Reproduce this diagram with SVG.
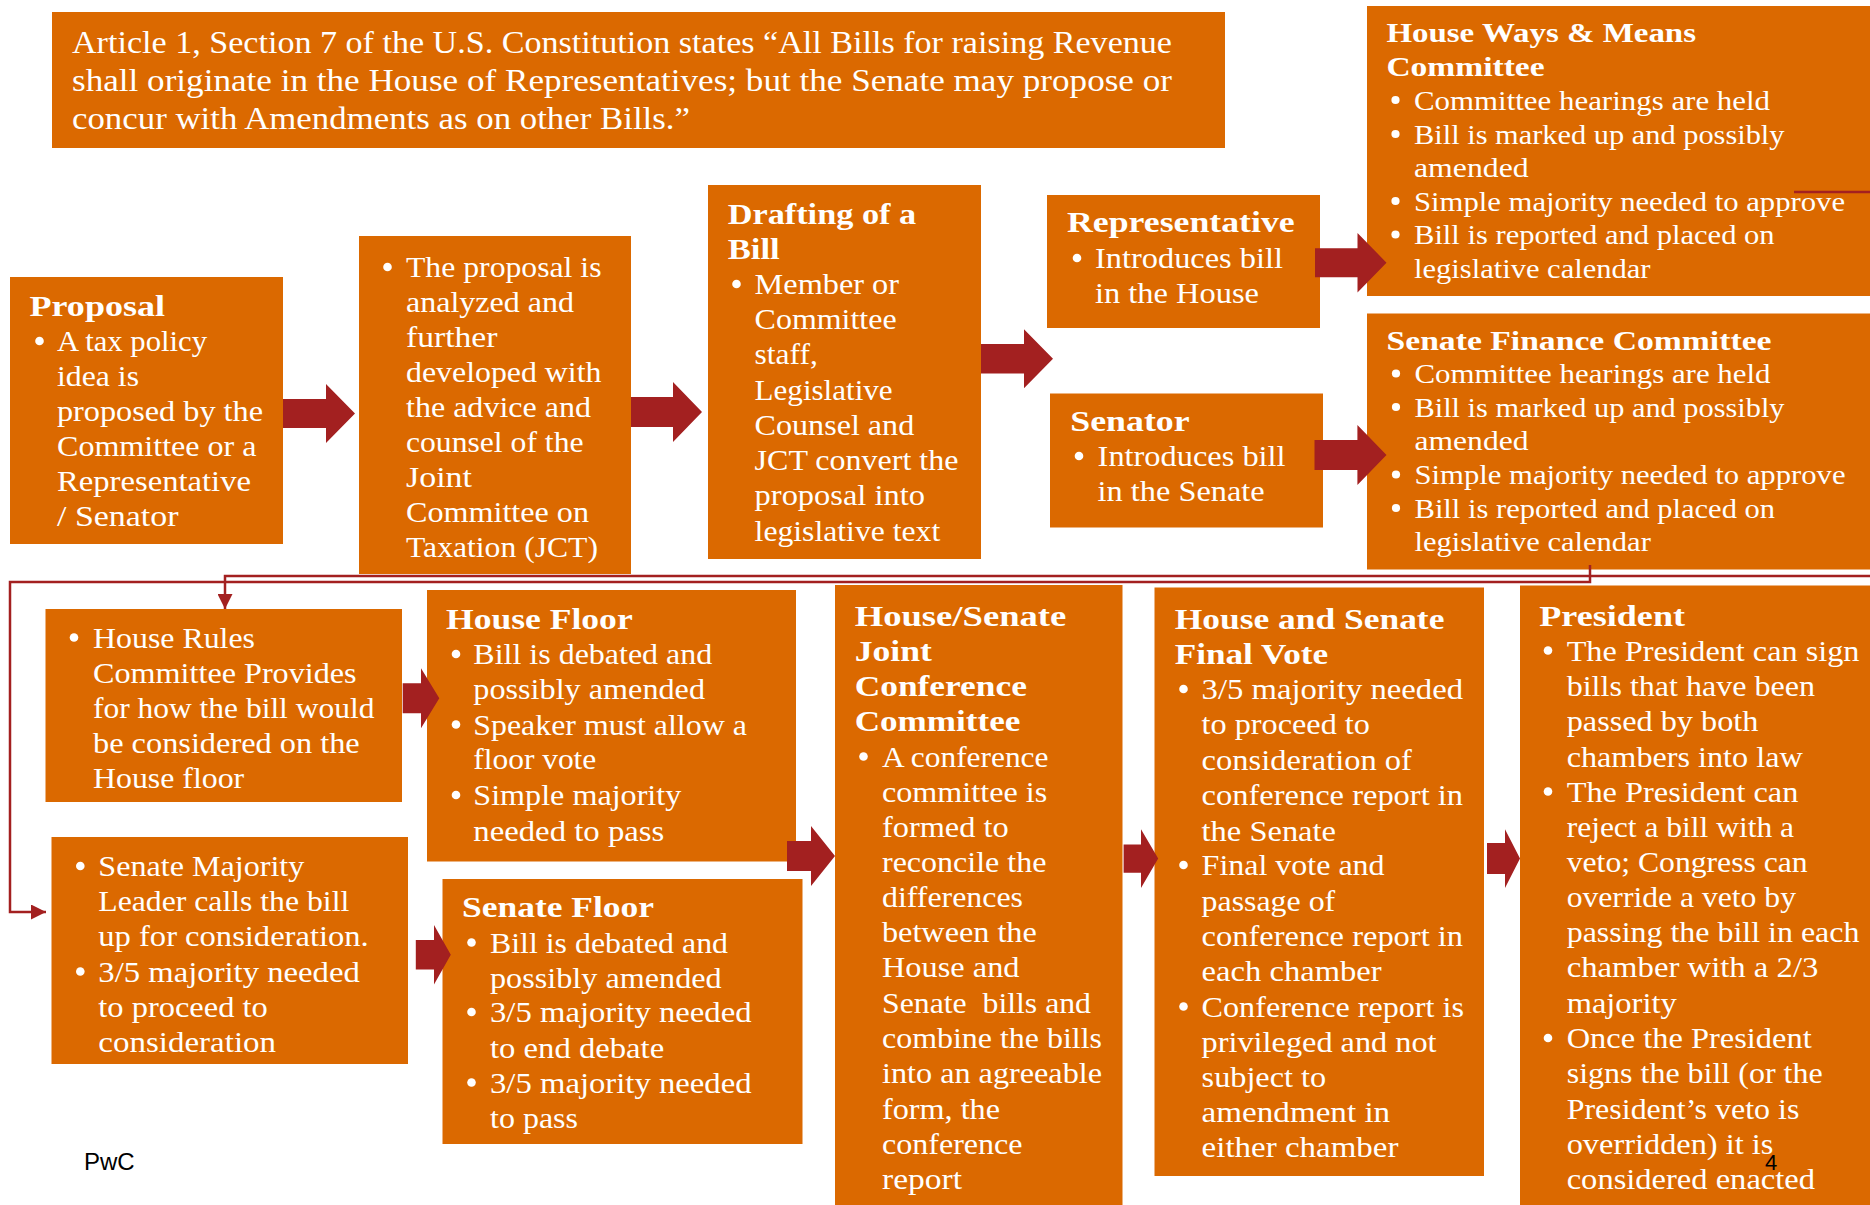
<svg xmlns="http://www.w3.org/2000/svg" width="1870" height="1205" viewBox="0 0 1870 1205">
<style>
.bg{fill:#ffffff}
.box{fill:#DB6900}
.t{font-family:"Liberation Serif","Times New Roman",serif;font-size:30px;fill:#ffffff}
.s{font-size:28px}
.q{font-size:31px}
.b{font-weight:bold}
.dot{fill:#ffffff}
.arr{fill:#A32020}
.ln{fill:none;stroke:#A32020;stroke-width:2.5}
.ft{font-family:"Liberation Sans",Arial,sans-serif;fill:#000000}
</style>
<defs>
<marker id="ah" viewBox="0 0 10 10" refX="10" refY="5" markerWidth="15" markerHeight="15" markerUnits="userSpaceOnUse" orient="auto">
<path d="M0,0 L10,5 L0,10 z" fill="#A32020"/>
</marker>
</defs>
<rect class="bg" x="0" y="0" width="1870" height="1205"/>

<g id="quote">
<rect class="box" x="52" y="12" width="1173" height="136"/>
<text class="t q" x="72" y="53" textLength="1100" lengthAdjust="spacingAndGlyphs">Article 1, Section 7 of the U.S. Constitution states “All Bills for raising Revenue</text>
<text class="t q" x="72" y="91" textLength="1100" lengthAdjust="spacingAndGlyphs">shall originate in the House of Representatives; but the Senate may propose or</text>
<text class="t q" x="72" y="129" textLength="618" lengthAdjust="spacingAndGlyphs">concur with Amendments as on other Bills.”</text>
</g>

<g id="proposal">
<rect class="box" x="10" y="277" width="273" height="267"/>
<text class="t b" x="29.5" y="316" textLength="135.5" lengthAdjust="spacingAndGlyphs">Proposal</text>
<circle class="dot" cx="39.5" cy="341" r="4.3"/>
<text class="t" x="57" y="351" textLength="150" lengthAdjust="spacingAndGlyphs">A tax policy</text>
<text class="t" x="57" y="386" textLength="82" lengthAdjust="spacingAndGlyphs">idea is</text>
<text class="t" x="57" y="421" textLength="206" lengthAdjust="spacingAndGlyphs">proposed by the</text>
<text class="t" x="57" y="456" textLength="199.5" lengthAdjust="spacingAndGlyphs">Committee or a</text>
<text class="t" x="57" y="491" textLength="194" lengthAdjust="spacingAndGlyphs">Representative</text>
<text class="t" x="57" y="526" textLength="121.5" lengthAdjust="spacingAndGlyphs">/ Senator</text>
</g>

<g id="jct-analysis">
<rect class="box" x="359" y="236" width="272" height="338"/>
<circle class="dot" cx="387.5" cy="267" r="4.3"/>
<text class="t" x="406" y="277" textLength="195.5" lengthAdjust="spacingAndGlyphs">The proposal is</text>
<text class="t" x="406" y="312" textLength="168" lengthAdjust="spacingAndGlyphs">analyzed and</text>
<text class="t" x="406" y="347" textLength="91.5" lengthAdjust="spacingAndGlyphs">further</text>
<text class="t" x="406" y="382" textLength="195.5" lengthAdjust="spacingAndGlyphs">developed with</text>
<text class="t" x="406" y="417" textLength="185" lengthAdjust="spacingAndGlyphs">the advice and</text>
<text class="t" x="406" y="452" textLength="177.5" lengthAdjust="spacingAndGlyphs">counsel of the</text>
<text class="t" x="406" y="487" textLength="66" lengthAdjust="spacingAndGlyphs">Joint</text>
<text class="t" x="406" y="522" textLength="183" lengthAdjust="spacingAndGlyphs">Committee on</text>
<text class="t" x="406" y="557" textLength="192" lengthAdjust="spacingAndGlyphs">Taxation (JCT)</text>
</g>

<g id="drafting">
<rect class="box" x="708" y="185" width="273" height="374"/>
<text class="t b" x="727.7" y="224" textLength="188.5" lengthAdjust="spacingAndGlyphs">Drafting of a</text>
<text class="t b" x="727.7" y="259" textLength="52" lengthAdjust="spacingAndGlyphs">Bill</text>
<circle class="dot" cx="736.5" cy="284" r="4.3"/>
<text class="t" x="754.6" y="294" textLength="144.4" lengthAdjust="spacingAndGlyphs">Member or</text>
<text class="t" x="754.6" y="329" textLength="142" lengthAdjust="spacingAndGlyphs">Committee</text>
<text class="t" x="754.6" y="364" textLength="63.3" lengthAdjust="spacingAndGlyphs">staff,</text>
<text class="t" x="754.6" y="399.5" textLength="138" lengthAdjust="spacingAndGlyphs">Legislative</text>
<text class="t" x="754.6" y="435" textLength="159.6" lengthAdjust="spacingAndGlyphs">Counsel and</text>
<text class="t" x="754.6" y="470" textLength="203.8" lengthAdjust="spacingAndGlyphs">JCT convert the</text>
<text class="t" x="754.6" y="505" textLength="170.4" lengthAdjust="spacingAndGlyphs">proposal into</text>
<text class="t" x="754.6" y="540.5" textLength="185.6" lengthAdjust="spacingAndGlyphs">legislative text</text>
</g>

<g id="representative">
<rect class="box" x="1047" y="195" width="273" height="133"/>
<text class="t b" x="1067" y="232" textLength="227.7" lengthAdjust="spacingAndGlyphs">Representative</text>
<circle class="dot" cx="1077" cy="258" r="4.3"/>
<text class="t" x="1095" y="268" textLength="188" lengthAdjust="spacingAndGlyphs">Introduces bill</text>
<text class="t" x="1095" y="303" textLength="164" lengthAdjust="spacingAndGlyphs">in the House</text>
</g>

<g id="senator">
<rect class="box" x="1050" y="393.5" width="273" height="134"/>
<text class="t b" x="1070.3" y="430.5" textLength="119.3" lengthAdjust="spacingAndGlyphs">Senator</text>
<circle class="dot" cx="1079" cy="456" r="4.3"/>
<text class="t" x="1097.6" y="466" textLength="188" lengthAdjust="spacingAndGlyphs">Introduces bill</text>
<text class="t" x="1097.6" y="501" textLength="167" lengthAdjust="spacingAndGlyphs">in the Senate</text>
</g>

<g id="ways-and-means">
<rect class="box" x="1367" y="6" width="503" height="290"/>
<text class="t s b" x="1386.4" y="42" textLength="309.6" lengthAdjust="spacingAndGlyphs">House Ways &amp; Means</text>
<text class="t s b" x="1386.4" y="76" textLength="158.2" lengthAdjust="spacingAndGlyphs">Committee</text>
<circle class="dot" cx="1395.5" cy="100" r="4.1"/>
<text class="t s" x="1414" y="109.5" textLength="356" lengthAdjust="spacingAndGlyphs">Committee hearings are held</text>
<circle class="dot" cx="1395.5" cy="134" r="4.1"/>
<text class="t s" x="1414" y="143.5" textLength="370.5" lengthAdjust="spacingAndGlyphs">Bill is marked up and possibly</text>
<text class="t s" x="1414" y="176.5" textLength="114.7" lengthAdjust="spacingAndGlyphs">amended</text>
<circle class="dot" cx="1395.5" cy="201" r="4.1"/>
<text class="t s" x="1414" y="210.5" textLength="431" lengthAdjust="spacingAndGlyphs">Simple majority needed to approve</text>
<circle class="dot" cx="1395.5" cy="234.5" r="4.1"/>
<text class="t s" x="1414" y="244" textLength="360.6" lengthAdjust="spacingAndGlyphs">Bill is reported and placed on</text>
<text class="t s" x="1414" y="277.5" textLength="236.5" lengthAdjust="spacingAndGlyphs">legislative calendar</text>
</g>

<g id="senate-finance">
<rect class="box" x="1367" y="313.5" width="503" height="256"/>
<text class="t s b" x="1386.5" y="350" textLength="385" lengthAdjust="spacingAndGlyphs">Senate Finance Committee</text>
<circle class="dot" cx="1396" cy="373.5" r="4.1"/>
<text class="t s" x="1414.5" y="383" textLength="356" lengthAdjust="spacingAndGlyphs">Committee hearings are held</text>
<circle class="dot" cx="1396" cy="407" r="4.1"/>
<text class="t s" x="1414.5" y="416.5" textLength="370" lengthAdjust="spacingAndGlyphs">Bill is marked up and possibly</text>
<text class="t s" x="1414.5" y="450" textLength="114" lengthAdjust="spacingAndGlyphs">amended</text>
<circle class="dot" cx="1396" cy="474.5" r="4.1"/>
<text class="t s" x="1414.5" y="484" textLength="431" lengthAdjust="spacingAndGlyphs">Simple majority needed to approve</text>
<circle class="dot" cx="1396" cy="508" r="4.1"/>
<text class="t s" x="1414.5" y="517.5" textLength="360.6" lengthAdjust="spacingAndGlyphs">Bill is reported and placed on</text>
<text class="t s" x="1414.5" y="551" textLength="236.3" lengthAdjust="spacingAndGlyphs">legislative calendar</text>
</g>

<g id="house-rules">
<rect class="box" x="45.5" y="609" width="356.5" height="193"/>
<circle class="dot" cx="74" cy="637.5" r="4.3"/>
<text class="t" x="93" y="647.5" textLength="162" lengthAdjust="spacingAndGlyphs">House Rules</text>
<text class="t" x="93" y="683" textLength="263.6" lengthAdjust="spacingAndGlyphs">Committee Provides</text>
<text class="t" x="93" y="717.5" textLength="281.4" lengthAdjust="spacingAndGlyphs">for how the bill would</text>
<text class="t" x="93" y="752.5" textLength="266.7" lengthAdjust="spacingAndGlyphs">be considered on the</text>
<text class="t" x="93" y="788" textLength="151.2" lengthAdjust="spacingAndGlyphs">House floor</text>
</g>

<g id="house-floor">
<rect class="box" x="427" y="590" width="369" height="271.5"/>
<text class="t b" x="446" y="628.5" textLength="186.7" lengthAdjust="spacingAndGlyphs">House Floor</text>
<circle class="dot" cx="456" cy="654" r="4.3"/>
<text class="t" x="473.3" y="664" textLength="239" lengthAdjust="spacingAndGlyphs">Bill is debated and</text>
<text class="t" x="473.3" y="699" textLength="231.7" lengthAdjust="spacingAndGlyphs">possibly amended</text>
<circle class="dot" cx="456" cy="724.5" r="4.3"/>
<text class="t" x="473.3" y="734.5" textLength="273.5" lengthAdjust="spacingAndGlyphs">Speaker must allow a</text>
<text class="t" x="473.3" y="769" textLength="123" lengthAdjust="spacingAndGlyphs">floor vote</text>
<circle class="dot" cx="456" cy="795" r="4.3"/>
<text class="t" x="473.3" y="805" textLength="208" lengthAdjust="spacingAndGlyphs">Simple majority</text>
<text class="t" x="473.3" y="840.5" textLength="191" lengthAdjust="spacingAndGlyphs">needed to pass</text>
</g>

<g id="senate-majority">
<rect class="box" x="51.5" y="837" width="356.5" height="227"/>
<circle class="dot" cx="80.3" cy="866" r="4.3"/>
<text class="t" x="98.3" y="876" textLength="206" lengthAdjust="spacingAndGlyphs">Senate Majority</text>
<text class="t" x="98.3" y="911" textLength="251" lengthAdjust="spacingAndGlyphs">Leader calls the bill</text>
<text class="t" x="98.3" y="945.5" textLength="270.4" lengthAdjust="spacingAndGlyphs">up for consideration.</text>
<circle class="dot" cx="80.3" cy="971.5" r="4.3"/>
<text class="t" x="98.3" y="981.5" textLength="261.5" lengthAdjust="spacingAndGlyphs">3/5 majority needed</text>
<text class="t" x="98.3" y="1016.5" textLength="169.5" lengthAdjust="spacingAndGlyphs">to proceed to</text>
<text class="t" x="98.3" y="1052" textLength="177.8" lengthAdjust="spacingAndGlyphs">consideration</text>
</g>

<g id="senate-floor">
<rect class="box" x="442.5" y="879" width="360" height="265"/>
<text class="t b" x="462" y="917" textLength="192" lengthAdjust="spacingAndGlyphs">Senate Floor</text>
<circle class="dot" cx="471.5" cy="942.5" r="4.3"/>
<text class="t" x="490" y="952.5" textLength="238" lengthAdjust="spacingAndGlyphs">Bill is debated and</text>
<text class="t" x="490" y="987.5" textLength="231.7" lengthAdjust="spacingAndGlyphs">possibly amended</text>
<circle class="dot" cx="471.5" cy="1012" r="4.3"/>
<text class="t" x="490" y="1022" textLength="261.5" lengthAdjust="spacingAndGlyphs">3/5 majority needed</text>
<text class="t" x="490" y="1057.5" textLength="174.2" lengthAdjust="spacingAndGlyphs">to end debate</text>
<circle class="dot" cx="471.5" cy="1082.5" r="4.3"/>
<text class="t" x="490" y="1092.5" textLength="261.5" lengthAdjust="spacingAndGlyphs">3/5 majority needed</text>
<text class="t" x="490" y="1128" textLength="88" lengthAdjust="spacingAndGlyphs">to pass</text>
</g>

<g id="conference">
<rect class="box" x="835" y="585" width="287.5" height="620"/>
<text class="t b" x="854.7" y="625.5" textLength="211.6" lengthAdjust="spacingAndGlyphs">House/Senate</text>
<text class="t b" x="854.7" y="660.5" textLength="77.2" lengthAdjust="spacingAndGlyphs">Joint</text>
<text class="t b" x="854.7" y="696" textLength="172.2" lengthAdjust="spacingAndGlyphs">Conference</text>
<text class="t b" x="854.7" y="731" textLength="165.7" lengthAdjust="spacingAndGlyphs">Committee</text>
<circle class="dot" cx="863.5" cy="756.5" r="4.3"/>
<text class="t" x="882" y="766.5" textLength="166.5" lengthAdjust="spacingAndGlyphs">A conference</text>
<text class="t" x="882" y="801.5" textLength="165.2" lengthAdjust="spacingAndGlyphs">committee is</text>
<text class="t" x="882" y="836.5" textLength="126.6" lengthAdjust="spacingAndGlyphs">formed to</text>
<text class="t" x="882" y="872" textLength="164.4" lengthAdjust="spacingAndGlyphs">reconcile the</text>
<text class="t" x="882" y="907" textLength="141" lengthAdjust="spacingAndGlyphs">differences</text>
<text class="t" x="882" y="942" textLength="154.8" lengthAdjust="spacingAndGlyphs">between the</text>
<text class="t" x="882" y="977" textLength="137.5" lengthAdjust="spacingAndGlyphs">House and</text>
<text class="t" x="882" y="1012.5" textLength="209" lengthAdjust="spacingAndGlyphs" style="white-space:pre">Senate  bills and</text>
<text class="t" x="882" y="1048" textLength="220" lengthAdjust="spacingAndGlyphs">combine the bills</text>
<text class="t" x="882" y="1083" textLength="220" lengthAdjust="spacingAndGlyphs">into an agreeable</text>
<text class="t" x="882" y="1118.5" textLength="118" lengthAdjust="spacingAndGlyphs">form, the</text>
<text class="t" x="882" y="1153.5" textLength="140.5" lengthAdjust="spacingAndGlyphs">conference</text>
<text class="t" x="882" y="1188.5" textLength="80" lengthAdjust="spacingAndGlyphs">report</text>
</g>

<g id="final-vote">
<rect class="box" x="1154.5" y="587.5" width="329.5" height="588.5"/>
<text class="t b" x="1174.7" y="628.5" textLength="269.7" lengthAdjust="spacingAndGlyphs">House and Senate</text>
<text class="t b" x="1174.7" y="664" textLength="153.5" lengthAdjust="spacingAndGlyphs">Final Vote</text>
<circle class="dot" cx="1183.5" cy="689" r="4.3"/>
<text class="t" x="1201.6" y="699" textLength="261.5" lengthAdjust="spacingAndGlyphs">3/5 majority needed</text>
<text class="t" x="1201.6" y="734" textLength="168.3" lengthAdjust="spacingAndGlyphs">to proceed to</text>
<text class="t" x="1201.6" y="769.5" textLength="210.3" lengthAdjust="spacingAndGlyphs">consideration of</text>
<text class="t" x="1201.6" y="805" textLength="261.5" lengthAdjust="spacingAndGlyphs">conference report in</text>
<text class="t" x="1201.6" y="840.5" textLength="134.4" lengthAdjust="spacingAndGlyphs">the Senate</text>
<circle class="dot" cx="1183.5" cy="865" r="4.3"/>
<text class="t" x="1201.6" y="875" textLength="183" lengthAdjust="spacingAndGlyphs">Final vote and</text>
<text class="t" x="1201.6" y="910.5" textLength="133.6" lengthAdjust="spacingAndGlyphs">passage of</text>
<text class="t" x="1201.6" y="946" textLength="261.5" lengthAdjust="spacingAndGlyphs">conference report in</text>
<text class="t" x="1201.6" y="981" textLength="180" lengthAdjust="spacingAndGlyphs">each chamber</text>
<circle class="dot" cx="1183.5" cy="1006.5" r="4.3"/>
<text class="t" x="1201.6" y="1016.5" textLength="262.4" lengthAdjust="spacingAndGlyphs">Conference report is</text>
<text class="t" x="1201.6" y="1051.5" textLength="235" lengthAdjust="spacingAndGlyphs">privileged and not</text>
<text class="t" x="1201.6" y="1086.5" textLength="124.5" lengthAdjust="spacingAndGlyphs">subject to</text>
<text class="t" x="1201.6" y="1121.5" textLength="188.6" lengthAdjust="spacingAndGlyphs">amendment in</text>
<text class="t" x="1201.6" y="1156.5" textLength="196.8" lengthAdjust="spacingAndGlyphs">either chamber</text>
</g>

<g id="president">
<rect class="box" x="1520" y="585.5" width="350" height="619.5"/>
<text class="t b" x="1539.3" y="625.5" textLength="145.7" lengthAdjust="spacingAndGlyphs">President</text>
<circle class="dot" cx="1548" cy="650.5" r="4.3"/>
<text class="t" x="1566.7" y="660.5" textLength="292.7" lengthAdjust="spacingAndGlyphs">The President can sign</text>
<text class="t" x="1566.7" y="695.5" textLength="248.3" lengthAdjust="spacingAndGlyphs">bills that have been</text>
<text class="t" x="1566.7" y="731" textLength="191.7" lengthAdjust="spacingAndGlyphs">passed by both</text>
<text class="t" x="1566.7" y="766.5" textLength="236" lengthAdjust="spacingAndGlyphs">chambers into law</text>
<circle class="dot" cx="1548" cy="791.5" r="4.3"/>
<text class="t" x="1566.7" y="801.5" textLength="231.7" lengthAdjust="spacingAndGlyphs">The President can</text>
<text class="t" x="1566.7" y="836.5" textLength="227.3" lengthAdjust="spacingAndGlyphs">reject a bill with a</text>
<text class="t" x="1566.7" y="872" textLength="241" lengthAdjust="spacingAndGlyphs">veto; Congress can</text>
<text class="t" x="1566.7" y="907" textLength="229.3" lengthAdjust="spacingAndGlyphs">override a veto by</text>
<text class="t" x="1566.7" y="942" textLength="292.7" lengthAdjust="spacingAndGlyphs">passing the bill in each</text>
<text class="t" x="1566.7" y="977" textLength="251.7" lengthAdjust="spacingAndGlyphs">chamber with a 2/3</text>
<text class="t" x="1566.7" y="1012.5" textLength="110" lengthAdjust="spacingAndGlyphs">majority</text>
<circle class="dot" cx="1548" cy="1038" r="4.3"/>
<text class="t" x="1566.7" y="1048" textLength="245" lengthAdjust="spacingAndGlyphs">Once the President</text>
<text class="t" x="1566.7" y="1083" textLength="256" lengthAdjust="spacingAndGlyphs">signs the bill (or the</text>
<text class="t" x="1566.7" y="1118.5" textLength="232.7" lengthAdjust="spacingAndGlyphs">President’s veto is</text>
<text class="t" x="1566.7" y="1153.5" textLength="206.7" lengthAdjust="spacingAndGlyphs">overridden) it is</text>
<text class="t" x="1566.7" y="1188.5" textLength="248.3" lengthAdjust="spacingAndGlyphs">considered enacted</text>
</g>

<g id="connectors">
<path class="arr" d="M283,399 H326 V384 L355,413.5 L326,443 V428 H283 Z"/>
<path class="arr" d="M631,397 H673 V382 L702,412 L673,442 V427 H631 Z"/>
<path class="arr" d="M981,344 H1024 V329.2 L1053,358.7 L1024,388.2 V373.4 H981 Z"/>
<path class="arr" d="M1315,248.2 H1357.5 V232.9 L1386.5,262.7 L1357.5,292.5 V277.2 H1315 Z"/>
<path class="arr" d="M1314.5,440 H1357.4 V425 L1386.5,455 L1357.4,485 V470 H1314.5 Z"/>
<path class="arr" d="M402.7,683.3 H421 V668.3 L439.3,698.3 L421,728.3 V713.3 H402.7 Z"/>
<path class="arr" d="M415.8,940 H434 V925 L450.8,954.7 L434,984.4 V969.4 H415.8 Z"/>
<path class="arr" d="M787,841 H811 V826 L835,856 L811,886 V871 H787 Z"/>
<path class="arr" d="M1123.6,844.4 H1141 V829.2 L1158.2,858.6 L1141,888 V872.8 H1123.6 Z"/>
<path class="arr" d="M1487,843.1 H1505 V829.2 L1520,858.6 L1505,888 V874.1 H1487 Z"/>
<path class="ln" d="M1794,192 H1870"/>
<path class="ln" d="M1870,576 H225 V609" marker-end="url(#ah)"/>
<path class="ln" d="M1590,565 V582 H10 V912 H46" marker-end="url(#ah)"/>
</g>

<text class="ft" x="84" y="1170" font-size="24">PwC</text>
<text class="ft" x="1765" y="1170" font-size="22">4</text>
</svg>
